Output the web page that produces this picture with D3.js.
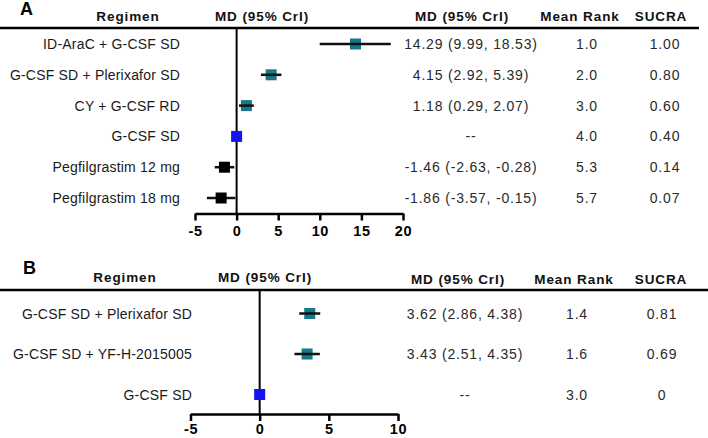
<!DOCTYPE html>
<html>
<head>
<meta charset="utf-8">
<script src="https://cdn.jsdelivr.net/npm/d3@7"></script>
<style>
  body { margin: 0; background: #fff; }
  svg { display: block; font-family: "Liberation Sans", Arial, sans-serif; }
  .lab { font-size: 14px; fill: #1a1a1a; letter-spacing: 0.2px; }
  .val { font-size: 14px; fill: #2a2a2a; letter-spacing: 0.8px; }
  .hdr { font-size: 13.5px; font-weight: bold; fill: #111; letter-spacing: 0.9px; }
  .axis text { font-size: 14.5px; font-weight: bold; fill: #000; letter-spacing: 0.6px; font-family: "Liberation Sans", Arial, sans-serif; }
</style>
</head>
<body>
<div id="chart"></div>
<script>
// Panel A data
const regimenA = ["ID-AraC + G-CSF SD", "G-CSF SD + Plerixafor SD", "CY + G-CSF RD", "G-CSF SD", "Pegfilgrastim 12 mg", "Pegfilgrastim 18 mg"];
const mdA = [14.29, 4.15, 1.18, 0, -1.46, -1.86];
const lowA = [9.99, 2.92, 0.29, null, -2.63, -3.57];
const highA = [18.53, 5.39, 2.07, null, -0.28, -0.15];
const rankA = ["1.0", "2.0", "3.0", "4.0", "5.3", "5.7"];
const sucraA = ["1.00", "0.80", "0.60", "0.40", "0.14", "0.07"];
const groupA = ["combo", "combo", "combo", "reference", "peg", "peg"];
const ticksA = [-5, 0, 5, 10, 15, 20];

// Panel B data
const regimenB = ["G-CSF SD + Plerixafor SD", "G-CSF SD + YF-H-2015005", "G-CSF SD"];
const mdB = [3.62, 3.43, 0];
const lowB = [2.86, 2.51, null];
const highB = [4.38, 4.35, null];
const rankB = ["1.4", "1.6", "3.0"];
const sucraB = ["0.81", "0.69", "0"];
const groupB = ["combo", "combo", "reference"];
const ticksB = [-5, 0, 5, 10];

const headers = ["Regimen", "MD (95% CrI)", "MD (95% CrI)", "Mean Rank", "SUCRA"];

const color = d3.scaleOrdinal()
  .domain(["combo", "reference", "peg"])
  .range(["#16788b", "#1212f2", "#000000"]);

const svg = d3.select("#chart").append("svg")
  .attr("width", 708)
  .attr("height", 438);

function mdText(i, md, low, high) {
  if (low[i] == null) return "--";
  return `${md[i].toFixed(2)} (${low[i].toFixed(2)}, ${high[i].toFixed(2)})`;
}

function drawPanel(p) {
  const g = svg.append("g");
  const x = d3.scaleLinear().domain(d3.extent(p.ticks)).range(p.xRange);
  const y = d3.scalePoint().domain(p.regimen).range(p.yRange);
  const rows = p.regimen.map((r, i) => ({
    r, i, md: p.md[i], low: p.low[i], high: p.high[i], grp: p.group[i]
  }));

  // panel letter
  g.append("text").attr("x", p.letterX).attr("y", p.letterY)
    .style("font-size", "18px").style("font-weight", "bold").text(p.letter);

  // headers
  g.selectAll(".hdr").data(headers).enter().append("text")
    .attr("class", "hdr")
    .attr("text-anchor", "middle")
    .attr("x", (d, i) => p.hdrX[i])
    .attr("y", (d, i) => i < 2 ? p.hdrY[0] : p.hdrY[1])
    .text(d => d);

  // header rule
  g.append("line")
    .attr("x1", 0).attr("x2", p.ruleEnd)
    .attr("y1", p.ruleY).attr("y2", p.ruleY)
    .attr("stroke", "#000").attr("stroke-width", 2.5);

  // zero line
  g.append("line")
    .attr("x1", x(0)).attr("x2", x(0))
    .attr("y1", p.ruleY).attr("y2", p.axisY)
    .attr("stroke", "#000").attr("stroke-width", 2);

  // axis
  const axis = g.append("g").attr("class", "axis")
    .attr("transform", `translate(0,${p.axisY})`)
    .call(d3.axisBottom(x).tickValues(p.ticks).tickSize(7).tickSizeOuter(0)
      .tickPadding(p.tickPad).tickFormat(d => String(d)));
  axis.select(".domain").attr("stroke-width", 2.5);
  axis.selectAll(".tick line").attr("stroke-width", 2.5);

  // regimen labels
  g.selectAll(".lab").data(rows).enter().append("text")
    .attr("class", "lab")
    .attr("text-anchor", "end")
    .attr("x", p.labelX)
    .attr("y", d => y(d.r))
    .attr("dy", "0.36em")
    .text(d => d.r);

  // CI lines
  g.selectAll(".ci").data(rows.filter(d => d.low != null)).enter().append("line")
    .attr("class", "ci")
    .attr("x1", d => x(d.low)).attr("x2", d => x(d.high))
    .attr("y1", d => y(d.r)).attr("y2", d => y(d.r))
    .attr("stroke", "#111").attr("stroke-width", 2.5);

  // point estimates
  const s = 11;
  g.selectAll(".pt").data(rows).enter().append("rect")
    .attr("class", "pt")
    .attr("x", d => x(d.md) - s / 2)
    .attr("y", d => y(d.r) - s / 2)
    .attr("width", s).attr("height", s)
    .attr("fill", d => color(d.grp));

  // CI line runs through the coloured squares
  g.selectAll(".ci2").data(rows.filter(d => d.low != null && d.grp !== "peg")).enter().append("line")
    .attr("x1", d => x(d.md) - s / 2).attr("x2", d => x(d.md) + s / 2)
    .attr("y1", d => y(d.r)).attr("y2", d => y(d.r))
    .attr("stroke", "#111").attr("stroke-width", 2.5);

  // value columns
  const cols = [
    { x: p.colX[0], f: d => mdText(d.i, p.md, p.low, p.high) },
    { x: p.colX[1], f: d => p.rank[d.i] },
    { x: p.colX[2], f: d => p.sucra[d.i] }
  ];
  cols.forEach(c => {
    g.selectAll(null).data(rows).enter().append("text")
      .attr("class", "val")
      .attr("text-anchor", "middle")
      .attr("x", c.x)
      .attr("y", d => y(d.r))
      .attr("dy", "0.36em")
      .text(c.f);
  });
}

drawPanel({
  letter: "A", letterX: 20, letterY: 15,
  regimen: regimenA, md: mdA, low: lowA, high: highA,
  rank: rankA, sucra: sucraA, group: groupA, ticks: ticksA,
  xRange: [195, 403], yRange: [44, 198],
  hdrX: [128, 262, 462, 580, 661], hdrY: [21, 20.5],
  ruleY: 28, ruleEnd: 699, axisY: 213.5, tickPad: 5,
  labelX: 180, colX: [471, 587, 665]
});

drawPanel({
  letter: "B", letterX: 23, letterY: 274,
  regimen: regimenB, md: mdB, low: lowB, high: highB,
  rank: rankB, sucra: sucraB, group: groupB, ticks: ticksB,
  xRange: [190.5, 398], yRange: [313.5, 394.5],
  hdrX: [125, 265, 458, 574, 661], hdrY: [281.5, 283.5],
  ruleY: 290, ruleEnd: 708, axisY: 414, tickPad: 2.5,
  labelX: 192, colX: [465, 577, 662]
});
</script>
</body>
</html>
